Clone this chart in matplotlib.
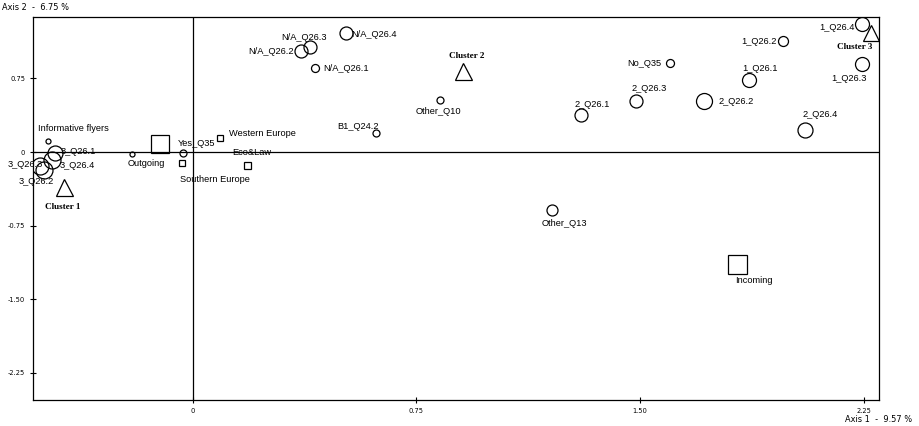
import matplotlib
matplotlib.use("Agg")
from matplotlib import pyplot as plt

# modalities plotted as open circles
circle_labels = ["1_Q26.4", "1_Q26.2", "1_Q26.1", "1_Q26.3", "2_Q26.2", "2_Q26.4",
                 "No_Q35", "2_Q26.3", "2_Q26.1", "Other_Q10", "B1_Q24.2", "Other_Q13",
                 "N/A_Q26.4", "N/A_Q26.3", "N/A_Q26.2", "N/A_Q26.1", "Yes_Q35", "",
                 "Informative flyers", "3_Q26.1", "3_Q26.4", "3_Q26.3", "3_Q26.2"]
circle_x = [2.243, 1.979, 1.865, 2.243, 1.714, 2.052,
            1.600, 1.486, 1.301, 0.828, 0.614, 1.204,
            0.513, 0.392, 0.362, 0.409, -0.034, -0.205,
            -0.486, -0.463, -0.473, -0.513, -0.500]
circle_y = [1.303, 1.130, 0.733, 0.896, 0.519, 0.228,
            0.906, 0.519, 0.377, 0.530, 0.193, -0.591,
            1.212, 1.069, 1.029, 0.855, -0.010, -0.020,
            0.112, -0.010, -0.081, -0.143, -0.183]
circle_weight = [14, 10, 14, 14, 16, 15,
                 8, 13, 13, 7, 7, 11,
                 13, 13, 13, 8, 7, 5,
                 5, 15, 17, 17, 17]

# supplementary modalities plotted as squares
square_labels = ["Outgoing", "Western Europe", "Southern Europe", "Eco&Law", "Incoming"]
square_x = [-0.111, 0.091, -0.037, 0.181, 1.824]
square_y = [0.081, 0.143, -0.112, -0.132, -1.141]
square_weight = [18, 6, 6, 7, 19]

# cluster centres
cluster_labels = ["Cluster 1", "Cluster 2", "Cluster 3"]
cluster_x = [-0.432, 0.905, 2.274]
cluster_y = [-0.356, 0.825, 1.212]
cluster_weight = [17, 17, 16]

x_ticks = [0, 0.75, 1.50, 2.25]
x_tick_labels = ["0", "0.75", "1.50", "2.25"]
y_ticks = [0.75, 0, -0.75, -1.50, -2.25]
y_tick_labels = ["0.75", "0", "-0.75", "-1.50", "-2.25"]

# label offsets in pixels (dx, dy), text centred
circle_offsets = [(-25, -3), (-24, 0), (11, 12), (-13, -14), (32, 0), (15, 15),
                  (-26, 0), (13, 13), (11, 11), (-1, -12), (-18, 7), (13, -13),
                  (28, -1), (-6, 10), (-30, -1), (31, 0), (14, 10), (0, 0),
                  (26, 13), (24, 2), (25, -6), (-15, 2), (-7, -11)]
square_offsets = [(-13, -19), (42, 4), (33, -16), (5, 12), (17, -16)]
cluster_offsets = [(-1, -20), (4, 15), (-16, -14)]

PX = 0.72  # points per pixel at dpi 100
narrow = ["Liberation Sans Narrow", "DejaVu Sans"]
sans = ["Liberation Sans", "DejaVu Sans"]
serif = ["Liberation Serif", "DejaVu Serif"]

fig = plt.figure(figsize=(9.19, 4.26), dpi=100)
ax = fig.add_axes([33 / 919, 1 - 400 / 426, (879 - 33) / 919, (400 - 17) / 426])
ax.set_xlim(-0.536, 2.301)
ax.set_ylim(-2.525, 1.375)

ax.axhline(0, color="black", lw=0.9, zorder=1)
ax.axvline(0, color="black", lw=0.9, zorder=1)

for x, y, w in zip(circle_x, circle_y, circle_weight):
    ax.plot(x, y, "o", ms=w * PX, mfc="none", mec="black", mew=0.9, zorder=3)
for x, y, w in zip(square_x, square_y, square_weight):
    ax.plot(x, y, "s", ms=w * PX, mfc="none", mec="black", mew=0.9, zorder=3)
for x, y, w in zip(cluster_x, cluster_y, cluster_weight):
    ax.plot(x, y, "^", ms=w * PX, mfc="none", mec="black", mew=0.9, zorder=3,
            clip_on=False)

for labels, xs, ys, offs in [(circle_labels, circle_x, circle_y, circle_offsets),
                             (square_labels, square_x, square_y, square_offsets)]:
    for txt, x, y, off in zip(labels, xs, ys, offs):
        if txt:
            ax.annotate(txt, (x, y), xytext=off, textcoords="offset pixels",
                        ha="center", va="center", fontsize=6.7, family=sans)
for txt, x, y, off in zip(cluster_labels, cluster_x, cluster_y, cluster_offsets):
    ax.annotate(txt, (x, y), xytext=off, textcoords="offset pixels",
                ha="center", va="center", fontsize=6.6, family=serif, weight="bold")

ax.set_xticks(x_ticks)
ax.set_xticklabels(x_tick_labels, family=narrow, fontsize=5.3, stretch="condensed")
ax.set_yticks(y_ticks)
ax.set_yticklabels(y_tick_labels, family=narrow, fontsize=5.3, stretch="condensed")
ax.tick_params(direction="inout", length=5, width=0.8, pad=3)
for sp in ax.spines.values():
    sp.set_linewidth(0.9)

fig.text(2 / 919, 1 - 8 / 426, "Axis 2  -  6.75 %", ha="left", va="center",
         family=narrow, fontsize=6.6, stretch="condensed")
fig.text(912 / 919, 1 - 420 / 426, "Axis 1  -  9.57 %", ha="right", va="center",
         family=narrow, fontsize=6.6, stretch="condensed")

fig.savefig("out.png", dpi=100)
